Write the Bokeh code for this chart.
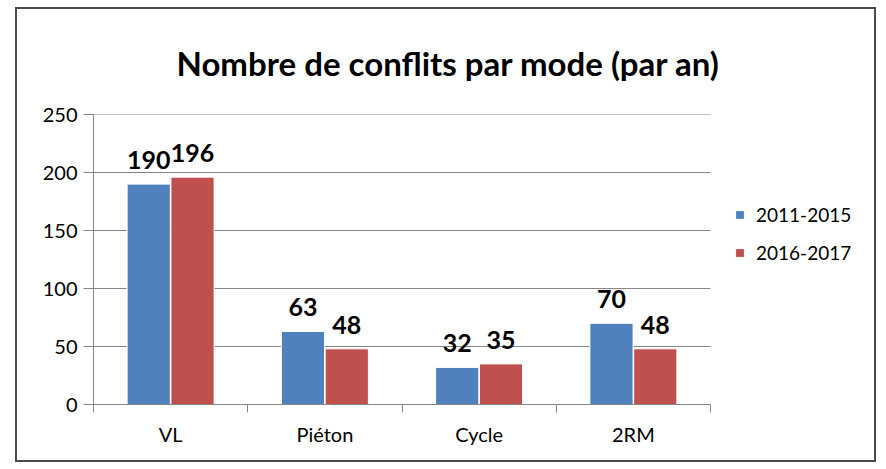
from bokeh.plotting import figure
from bokeh.models import ColumnDataSource, LabelSet, FixedTicker, Range1d, Legend, LegendItem
from bokeh.transform import dodge
from bokeh.core.properties import value
from bokeh.embed import file_html
from bokeh.resources import INLINE

categories = ["VL", "Piéton", "Cycle", "2RM"]
series_names = ["2011-2015", "2016-2017"]
values_2011_2015 = [190, 63, 32, 70]
values_2016_2017 = [196, 48, 35, 48]
y_ticks = [0, 50, 100, 150, 200, 250]
title_text = "Nombre de conflits par mode (par an)"

colors = ["#4F81BD", "#C0504D"]
FONT = "Lato"
GRAY = "#868686"

n = len(categories)
pos = [i + 0.5 for i in range(n)]
src = ColumnDataSource(dict(
    x=pos,
    a=values_2011_2015,
    b=values_2016_2017,
    la=[str(v) for v in values_2011_2015],
    lb=[str(v) for v in values_2016_2017],
))

PW = 617          # width of the plotting area (categories)
EXT = 157         # extra frame room on the right for the legend
FW, FH = PW + EXT, 290
p = figure(frame_width=FW, frame_height=FH, output_backend="svg", toolbar_location=None,
           x_range=Range1d(0, n * FW / PW), y_range=Range1d(0, y_ticks[-1]),
           min_border_left=76, min_border_right=7, min_border_top=100, min_border_bottom=56)
p.styles = {"border": "2px solid #4a4a4a", "transform": "translate(15px, 7px)"}
p.outline_line_color = None
p.background_fill_color = "white"
p.border_fill_color = "white"

# horizontal grid lines limited to the category area
p.xgrid.visible = False
p.ygrid.visible = False
p.segment(x0=[0] * len(y_ticks), x1=[n] * len(y_ticks), y0=y_ticks, y1=y_ticks,
          line_color=GRAY, line_width=1)

bw = 0.28
off = 0.142
r1 = p.vbar(x=dodge("x", -off), top="a", width=bw, source=src,
            fill_color=colors[0], line_color="white", line_width=1)
r2 = p.vbar(x=dodge("x", off), top="b", width=bw, source=src,
            fill_color=colors[1], line_color="white", line_width=1)

for col, lab, dx in (("a", "la", -off), ("b", "lb", off)):
    ls = LabelSet(x=dodge("x", dx), y=col, text=lab, source=src, y_offset=15,
                  text_align="center", text_baseline="alphabetic",
                  text_font=value(FONT), text_font_style="bold", text_font_size="25px",
                  text_color="black")
    p.add_layout(ls)

# title
p.title.text = title_text
p.title.text_font = FONT
p.title.text_font_style = "bold"
p.title.text_font_size = "33px"
p.title.text_color = "black"
p.title.align = "left"
p.title.offset = 83
p.title.standoff = 63

# y axis
p.yaxis.ticker = FixedTicker(ticks=y_ticks)
p.yaxis.axis_line_color = GRAY
p.yaxis.major_tick_line_color = GRAY
p.yaxis.major_tick_out = 10
p.yaxis.major_tick_in = 0
p.yaxis.minor_tick_line_color = None
p.yaxis.major_label_standoff = 6
p.yaxis.major_label_text_font = FONT
p.yaxis.major_label_text_font_size = "20px"
p.yaxis.major_label_text_color = "black"

# x axis
p.xaxis.ticker = FixedTicker(ticks=pos, minor_ticks=list(range(n + 1)))
p.xaxis.bounds = (0, n)
p.xaxis.major_label_overrides = {x: c for x, c in zip(pos, categories)}
p.xaxis.axis_line_color = GRAY
p.xaxis.major_tick_line_color = None
p.xaxis.major_tick_out = 0
p.xaxis.major_tick_in = 0
p.xaxis.minor_tick_line_color = GRAY
p.xaxis.minor_tick_out = 8
p.xaxis.minor_tick_in = 0
p.xaxis.major_label_standoff = 9
p.xaxis.major_label_text_font = FONT
p.xaxis.major_label_text_font_size = "20px"
p.xaxis.major_label_text_color = "black"

legend = Legend(items=[LegendItem(label=series_names[0], renderers=[r1]),
                       LegendItem(label=series_names[1], renderers=[r2])],
                location=(PW + 24, 140), orientation="vertical")
legend.glyph_width = 11
legend.glyph_height = 11
legend.label_height = 20
legend.spacing = 15
legend.padding = 0
legend.margin = 0
legend.label_standoff = 11
legend.border_line_color = None
legend.background_fill_alpha = 0
legend.label_text_font = FONT
legend.label_text_font_size = "19px"
legend.label_text_color = "black"
p.add_layout(legend, "center")

open("out.html", "w").write(file_html(p, INLINE))
